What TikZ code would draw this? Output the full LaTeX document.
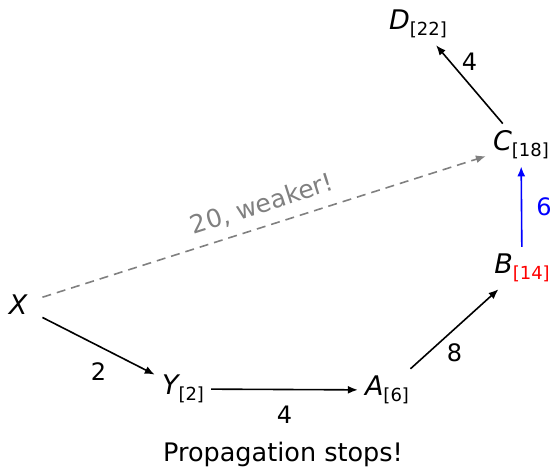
\documentclass[tikz,border=0pt]{standalone}
\usepackage{fontspec}
\setmainfont{DejaVu Sans}
\usetikzlibrary{arrows.meta}
\definecolor{weakgray}{RGB}{128,128,128}
\newcommand{\lbl}[2]{{\fontsize{27}{28}\selectfont\itshape #1}\raisebox{-6pt}{\fontsize{18}{19}\selectfont #2}}
\begin{document}
\begin{tikzpicture}[x=1pt,y=-1pt,
  vtx/.style={inner sep=7pt},
  edgelbl/.style={inner sep=0pt,font=\fontsize{24}{25}\selectfont},
  arr/.style={-{Latex[length=10pt,width=8pt]},line width=1.6pt}]
\useasboundingbox (0,0) rectangle (553,474);
\node[vtx,inner xsep=15pt] (X) at (18,305) {{\fontsize{27}{28}\selectfont\itshape X}};
\node[vtx] (Y) at (183,389) {\lbl{Y}{[2]}};
\node[vtx] (A) at (387,390) {\lbl{A}{[6]}};
\node[vtx] (B) at (522,268) {\lbl{B}{\textcolor{red}{[14]}}};
\node[vtx] (C) at (521,145) {\lbl{C}{[18]}};
\node[vtx] (D) at (418,24) {\lbl{D}{[22]}};
\draw[arr] (X) -- node[edgelbl,midway,below=16pt] (l2) {2} (Y);
\draw[arr] (Y) -- node[edgelbl,midway,below=16pt] (l4a) {4} (A);
\draw[arr] (A) -- node[edgelbl,midway,below=14pt] (l8) {8} (B);
\draw[arr,blue] (B) -- node[edgelbl,midway,right=14pt] (l6) {6} (C);
\draw[arr] (C) -- node[edgelbl,midway,above=13pt] (l4b) {4} (D);
\draw[arr,weakgray,dash pattern=on 9pt off 6pt] (X) -- node[pos=0.51,sloped,above=10pt,inner sep=0pt,font=\fontsize{25}{26}\selectfont] (lw) {20, weaker!} (C);
\node[font=\fontsize{25.5}{27}\selectfont] (cap) at (283,454) {Propagation stops!};
\end{tikzpicture}
\end{document}
